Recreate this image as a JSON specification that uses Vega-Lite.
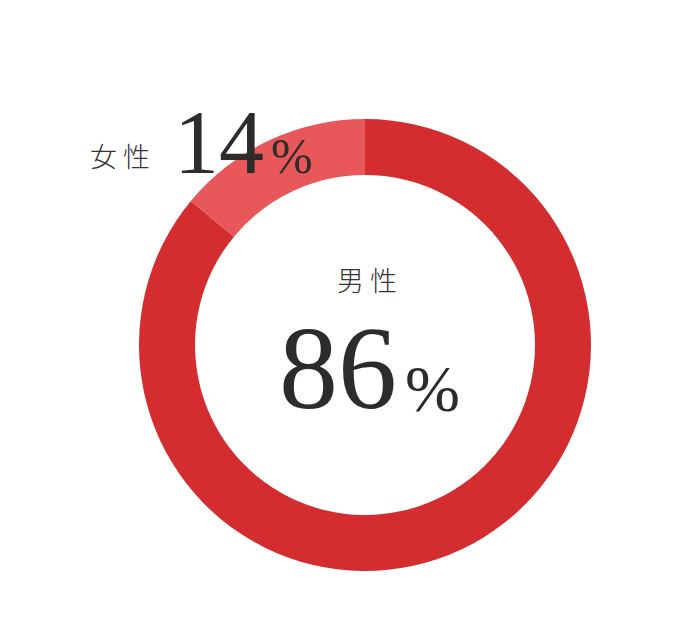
{
  "$schema": "https://vega.github.io/schema/vega-lite/v6.json",
  "autosize": {"type": "none"},
  "width": 530,
  "height": 452,
  "padding": {"left": 100, "top": 119, "right": 50, "bottom": 61},
  "background": "white",
  "config": {"view": {"stroke": null}},
  "data": {"values": [
    {"gender": "男性", "label": "男 性", "value": 86, "pct": "%"},
    {"gender": "女性", "label": "女 性", "value": 14, "pct": "%"}
  ]},
  "layer": [
    {
      "mark": {"type": "arc", "innerRadius": 170, "outerRadius": 226, "stroke": null},
      "encoding": {
        "theta": {"field": "value", "type": "quantitative", "stack": true},
        "order": {"field": "value", "type": "quantitative", "sort": "descending"},
        "color": {"field": "gender", "type": "nominal", "scale": {"domain": ["男性", "女性"], "range": ["#d32d2f", "#e8585a"]}, "legend": null}
      }
    },
    {
      "transform": [{"filter": "datum.gender === '男性'"}],
      "mark": {"type": "text", "font": "Noto Sans CJK JP", "fontSize": 27, "fontWeight": 300, "color": "#333333", "align": "center", "baseline": "middle", "dx": 2, "dy": -62},
      "encoding": {"text": {"field": "label"}}
    },
    {
      "transform": [{"filter": "datum.gender === '男性'"}],
      "mark": {"type": "text", "font": "Liberation Serif", "fontSize": 118, "color": "#2e2b2b", "align": "right", "baseline": "alphabetic", "dx": 32, "dy": 63},
      "encoding": {"text": {"field": "value"}}
    },
    {
      "transform": [{"filter": "datum.gender === '男性'"}],
      "mark": {"type": "text", "font": "Liberation Serif", "fontSize": 66, "color": "#2e2b2b", "align": "left", "baseline": "alphabetic", "dx": 40, "dy": 66},
      "encoding": {"text": {"field": "pct"}}
    },
    {
      "transform": [{"filter": "datum.gender === '女性'"}],
      "mark": {"type": "text", "font": "Noto Sans CJK JP", "fontSize": 27, "fontWeight": 300, "color": "#333333", "align": "left", "baseline": "middle", "dx": -275, "dy": -186},
      "encoding": {"text": {"field": "label"}}
    },
    {
      "transform": [{"filter": "datum.gender === '女性'"}],
      "mark": {"type": "text", "font": "Liberation Serif", "fontSize": 90, "color": "#2e2b2b", "align": "left", "baseline": "alphabetic", "dx": -191, "dy": -172},
      "encoding": {"text": {"field": "value"}}
    },
    {
      "transform": [{"filter": "datum.gender === '女性'"}],
      "mark": {"type": "text", "font": "Liberation Serif", "fontSize": 50, "color": "#2e2b2b", "align": "left", "baseline": "alphabetic", "dx": -94, "dy": -172},
      "encoding": {"text": {"field": "pct"}}
    }
  ]
}
